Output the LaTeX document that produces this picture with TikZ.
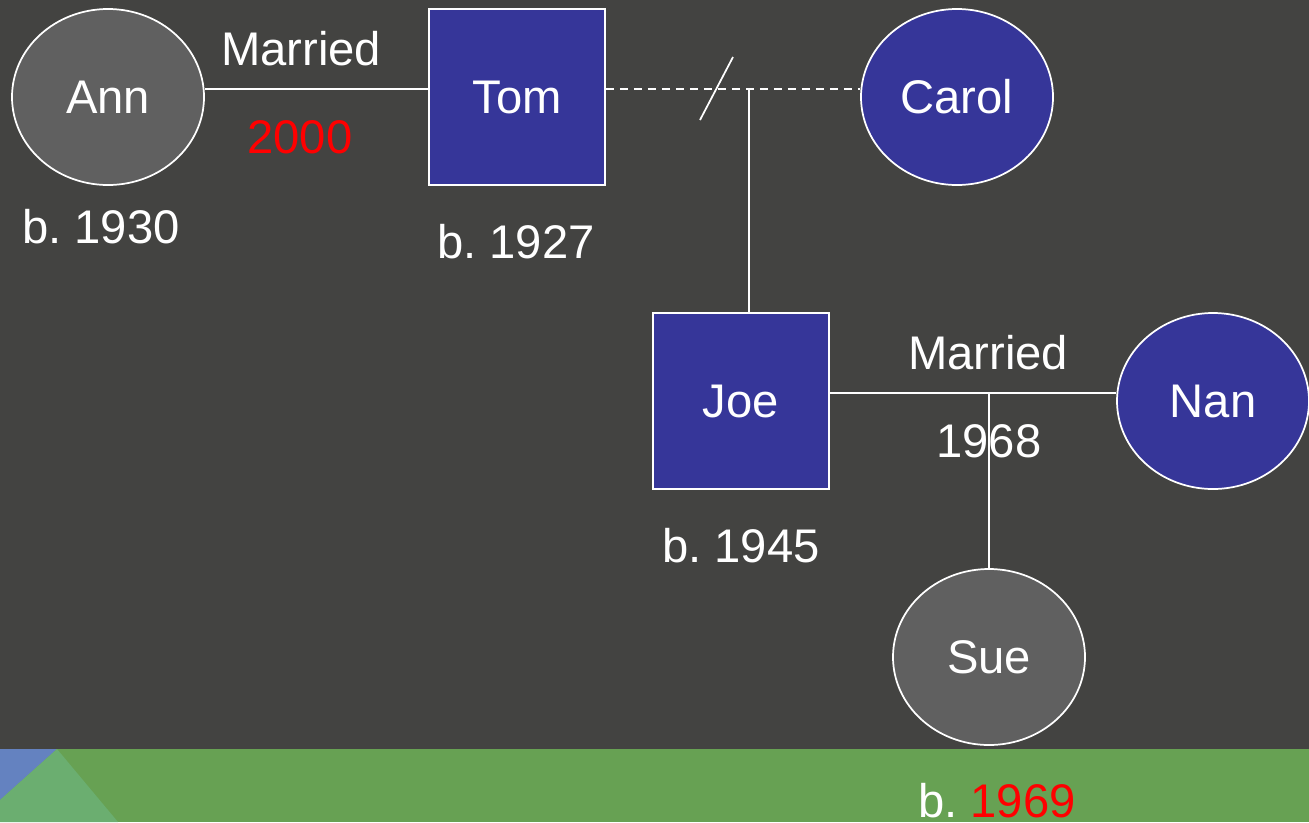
\documentclass[tikz,border=0pt]{standalone}
\usepackage{fontspec}
\setmainfont{Liberation Sans}
\usetikzlibrary{shapes.geometric}
\frenchspacing
\definecolor{bgdark}{RGB}{67,67,65}
\definecolor{persongray}{RGB}{96,96,96}
\definecolor{personblue}{RGB}{54,54,153}
\definecolor{banddark}{RGB}{103,161,83}
\definecolor{bandlight}{RGB}{107,174,112}
\definecolor{bandblue}{RGB}{100,130,192}
\tikzset{
  female/.style={ellipse, draw=white, line width=1.3pt, minimum width=144pt, minimum height=132pt, inner sep=0pt, text=white, font=\fontsize{35.4}{42}\selectfont},
  male/.style={rectangle, draw=white, line width=1.3pt, minimum width=132pt, minimum height=132pt, inner sep=0pt, text=white, font=\fontsize{35.4}{42}\selectfont},
  caption/.style={anchor=base, inner sep=0pt, text=white, font=\fontsize{35.4}{42}\selectfont},
  link/.style={white, line width=1.5pt},
}
\begin{document}
\begin{tikzpicture}[x=0.75pt, y=-0.75pt]
% background and bottom band
\fill[bgdark] (0,0) rectangle (1309,822);
\useasboundingbox (0,0) rectangle (1309,822);
\fill[banddark] (0,749) rectangle (1309,822);
\fill[bandblue] (0,749) -- (57,749) -- (0,800) -- cycle;
\fill[bandlight] (57,749) -- (0,800) -- (0,822) -- (118,822) -- cycle;

% people
\node[female, fill=persongray] (Ann) at (108,97) {Ann};
\node[male, fill=personblue] (Tom) at (517,97) {Tom};
\node[female, fill=personblue] (Carol) at (957,97) {Carol};
\node[male, fill=personblue] (Joe) at (741,401) {Joe};
\node[female, fill=personblue] (Nan) at (1213,401) {Nan};
\node[female, fill=persongray] (Sue) at (989,657) {Sue};

% captions
\node[caption] (m1) at (301,65) {Married};
\node[caption, text=red] (y1) at (300,153) {2000};
\node[caption] (bAnn) at (101,243) {b. 1930};
\node[caption] (bTom) at (516,258) {b. 1927};
\node[caption] (m2) at (988,369) {Married};
\node[caption] (y2) at (989,457) {1968};
\node[caption] (bJoe) at (741,562) {b. 1945};
\node[caption] (bSue) at (997,817) {b. {\color{red}1969}};

% unions and descent
\coordinate (j1) at (749,89);
\coordinate (j2) at (989,393);
\coordinate (s1) at (733,57);
\coordinate (s2) at (700,120);
\draw[link] ([yshift=6pt]Ann.east) -- ([yshift=6pt]Tom.west);
\draw[link, dash pattern=on 6pt off 4.5pt] ([yshift=6pt]Tom.east) -- ([yshift=6pt]Carol.west);
\draw[link, line width=1.3pt] (s1) -- (s2);
\draw[link] (j1) -- (j1 |- Joe.north);
\draw[link] ([yshift=6pt]Joe.east) -- ([yshift=6pt]Nan.west);
\draw[link] (j2) -- (Sue.north);
\end{tikzpicture}
\end{document}
